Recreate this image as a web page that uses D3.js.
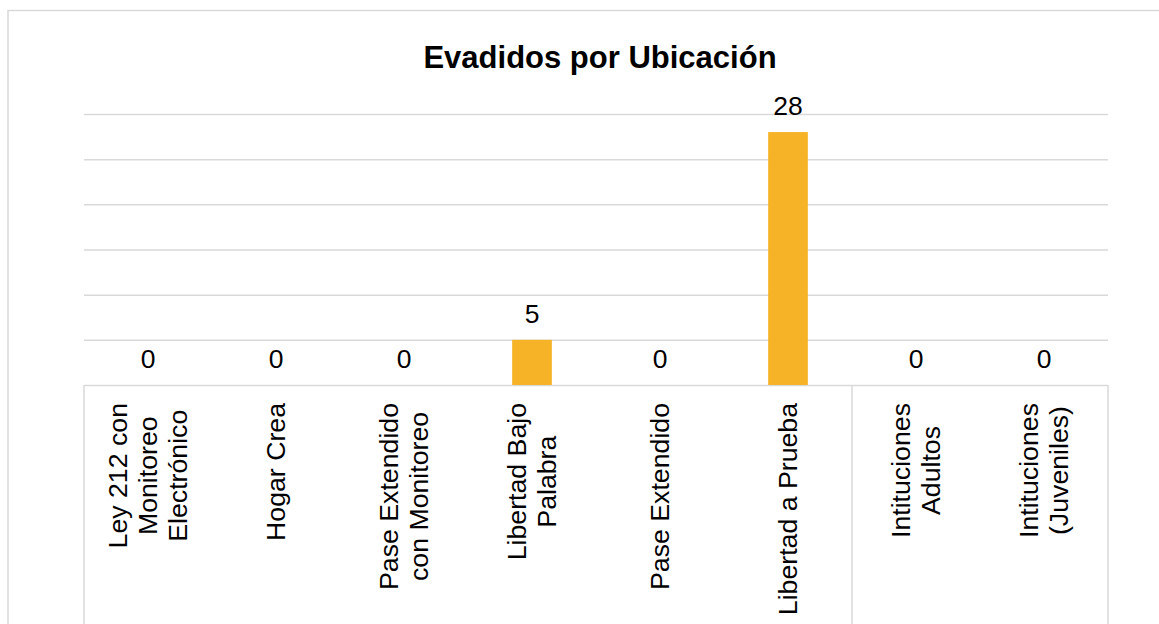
<!DOCTYPE html>
<html>
<head>
<meta charset="utf-8">
<script src="https://cdn.jsdelivr.net/npm/d3@7"></script>
<style>
  body { margin: 0; background: #fff; }
  text { font-family: "Liberation Sans", Arial, sans-serif; fill: #000; }
</style>
</head>
<body>
<div id="graphic"></div>
<script>
// chart data
var categories = [
  ["Ley 212 con", "Monitoreo", "Electrónico"],
  ["Hogar Crea"],
  ["Pase Extendido", "con Monitoreo"],
  ["Libertad Bajo", "Palabra"],
  ["Pase Extendido"],
  ["Libertad a Prueba"],
  ["Intituciones", "Adultos"],
  ["Intituciones", "(Juveniles)"]
];
var values = [0, 0, 0, 5, 0, 28, 0, 0];
var gridTicks = [0, 5, 10, 15, 20, 25, 30];
var titleText = "Evadidos por Ubicación";

var width = 1159, height = 624;
var margin = {top: 114, left: 84, right: 51, bottom: 239};
var plotBottom = height - margin.bottom;

var svg = d3.select('#graphic').append('svg')
  .attr('width', width)
  .attr('height', height);

// outer chart border (runs off the page right / bottom)
svg.append('rect')
  .attr('x', 8).attr('y', 10.5)
  .attr('width', 1200).attr('height', 700)
  .attr('fill', 'none')
  .attr('stroke', '#d9d9d9')
  .attr('stroke-width', 1.5);

var keys = categories.map(function(d, i) { return i; });

var x = d3.scaleBand()
  .domain(keys)
  .range([margin.left, width - margin.right])
  .paddingInner(0.69)
  .paddingOuter(0.345);

var y = d3.scaleLinear()
  .domain([0, 30])
  .range([plotBottom, margin.top]);

// gridlines
var yAxis = d3.axisLeft(y)
  .tickValues(gridTicks)
  .tickSize(-(width - margin.right - margin.left))
  .tickFormat('');

svg.append('g')
  .attr('class', 'grid')
  .attr('transform', 'translate(' + margin.left + ',0)')
  .call(yAxis)
  .call(function(g) {
    g.select('.domain').remove();
    g.selectAll('line').attr('stroke', '#d9d9d9').attr('stroke-width', 1.5);
  });

// category table lines (left, divider before the last group, right)
var step = x.step();
var dividers = [0, 6, 8].map(function(i) { return margin.left + i * step; });
svg.selectAll('line.divider')
  .data(dividers)
  .join('line')
  .attr('class', 'divider')
  .attr('x1', function(d) { return d; })
  .attr('x2', function(d) { return d; })
  .attr('y1', plotBottom)
  .attr('y2', height + 10)
  .attr('stroke', '#d9d9d9')
  .attr('stroke-width', 1.5);

// bars
svg.selectAll('rect.bar')
  .data(values)
  .join('rect')
  .attr('class', 'bar')
  .attr('x', function(d, i) { return x(i); })
  .attr('width', x.bandwidth())
  .attr('y', function(d) { return y(d); })
  .attr('height', function(d) { return plotBottom - y(d); })
  .attr('fill', '#F6B327');

// value labels
svg.selectAll('text.value')
  .data(values)
  .join('text')
  .attr('class', 'value')
  .attr('x', function(d, i) { return x(i) + x.bandwidth() / 2; })
  .attr('y', function(d) { return y(d) - 17; })
  .attr('text-anchor', 'middle')
  .style('font-size', '26.5px')
  .text(function(d) { return d; });

// rotated category labels, lines centred, block top near the axis
var lineHeight = 30;
var labelTop = 403;
var cat = svg.selectAll('g.cat')
  .data(categories)
  .join('g')
  .attr('class', 'cat');

cat.each(function(lines, i) {
  var g = d3.select(this);
  var t = g.selectAll('text')
    .data(lines)
    .join('text')
    .attr('text-anchor', 'middle')
    .style('font-size', '26.7px')
    .attr('y', function(d, j) { return (j - (lines.length - 1) / 2) * lineHeight; })
    .attr('dy', '0.35em')
    .text(function(d) { return d; });
  var maxLen = d3.max(t.nodes(), function(n) { return n.getComputedTextLength(); });
  var cx = x(i) + x.bandwidth() / 2;
  g.attr('transform', 'translate(' + cx + ',' + (labelTop + maxLen / 2) + ') rotate(-90)');
});

// title
svg.append('text')
  .attr('x', 600)
  .attr('y', 68)
  .attr('text-anchor', 'middle')
  .style('font-size', '31px')
  .style('font-weight', 'bold')
  .text(titleText);
</script>
</body>
</html>
